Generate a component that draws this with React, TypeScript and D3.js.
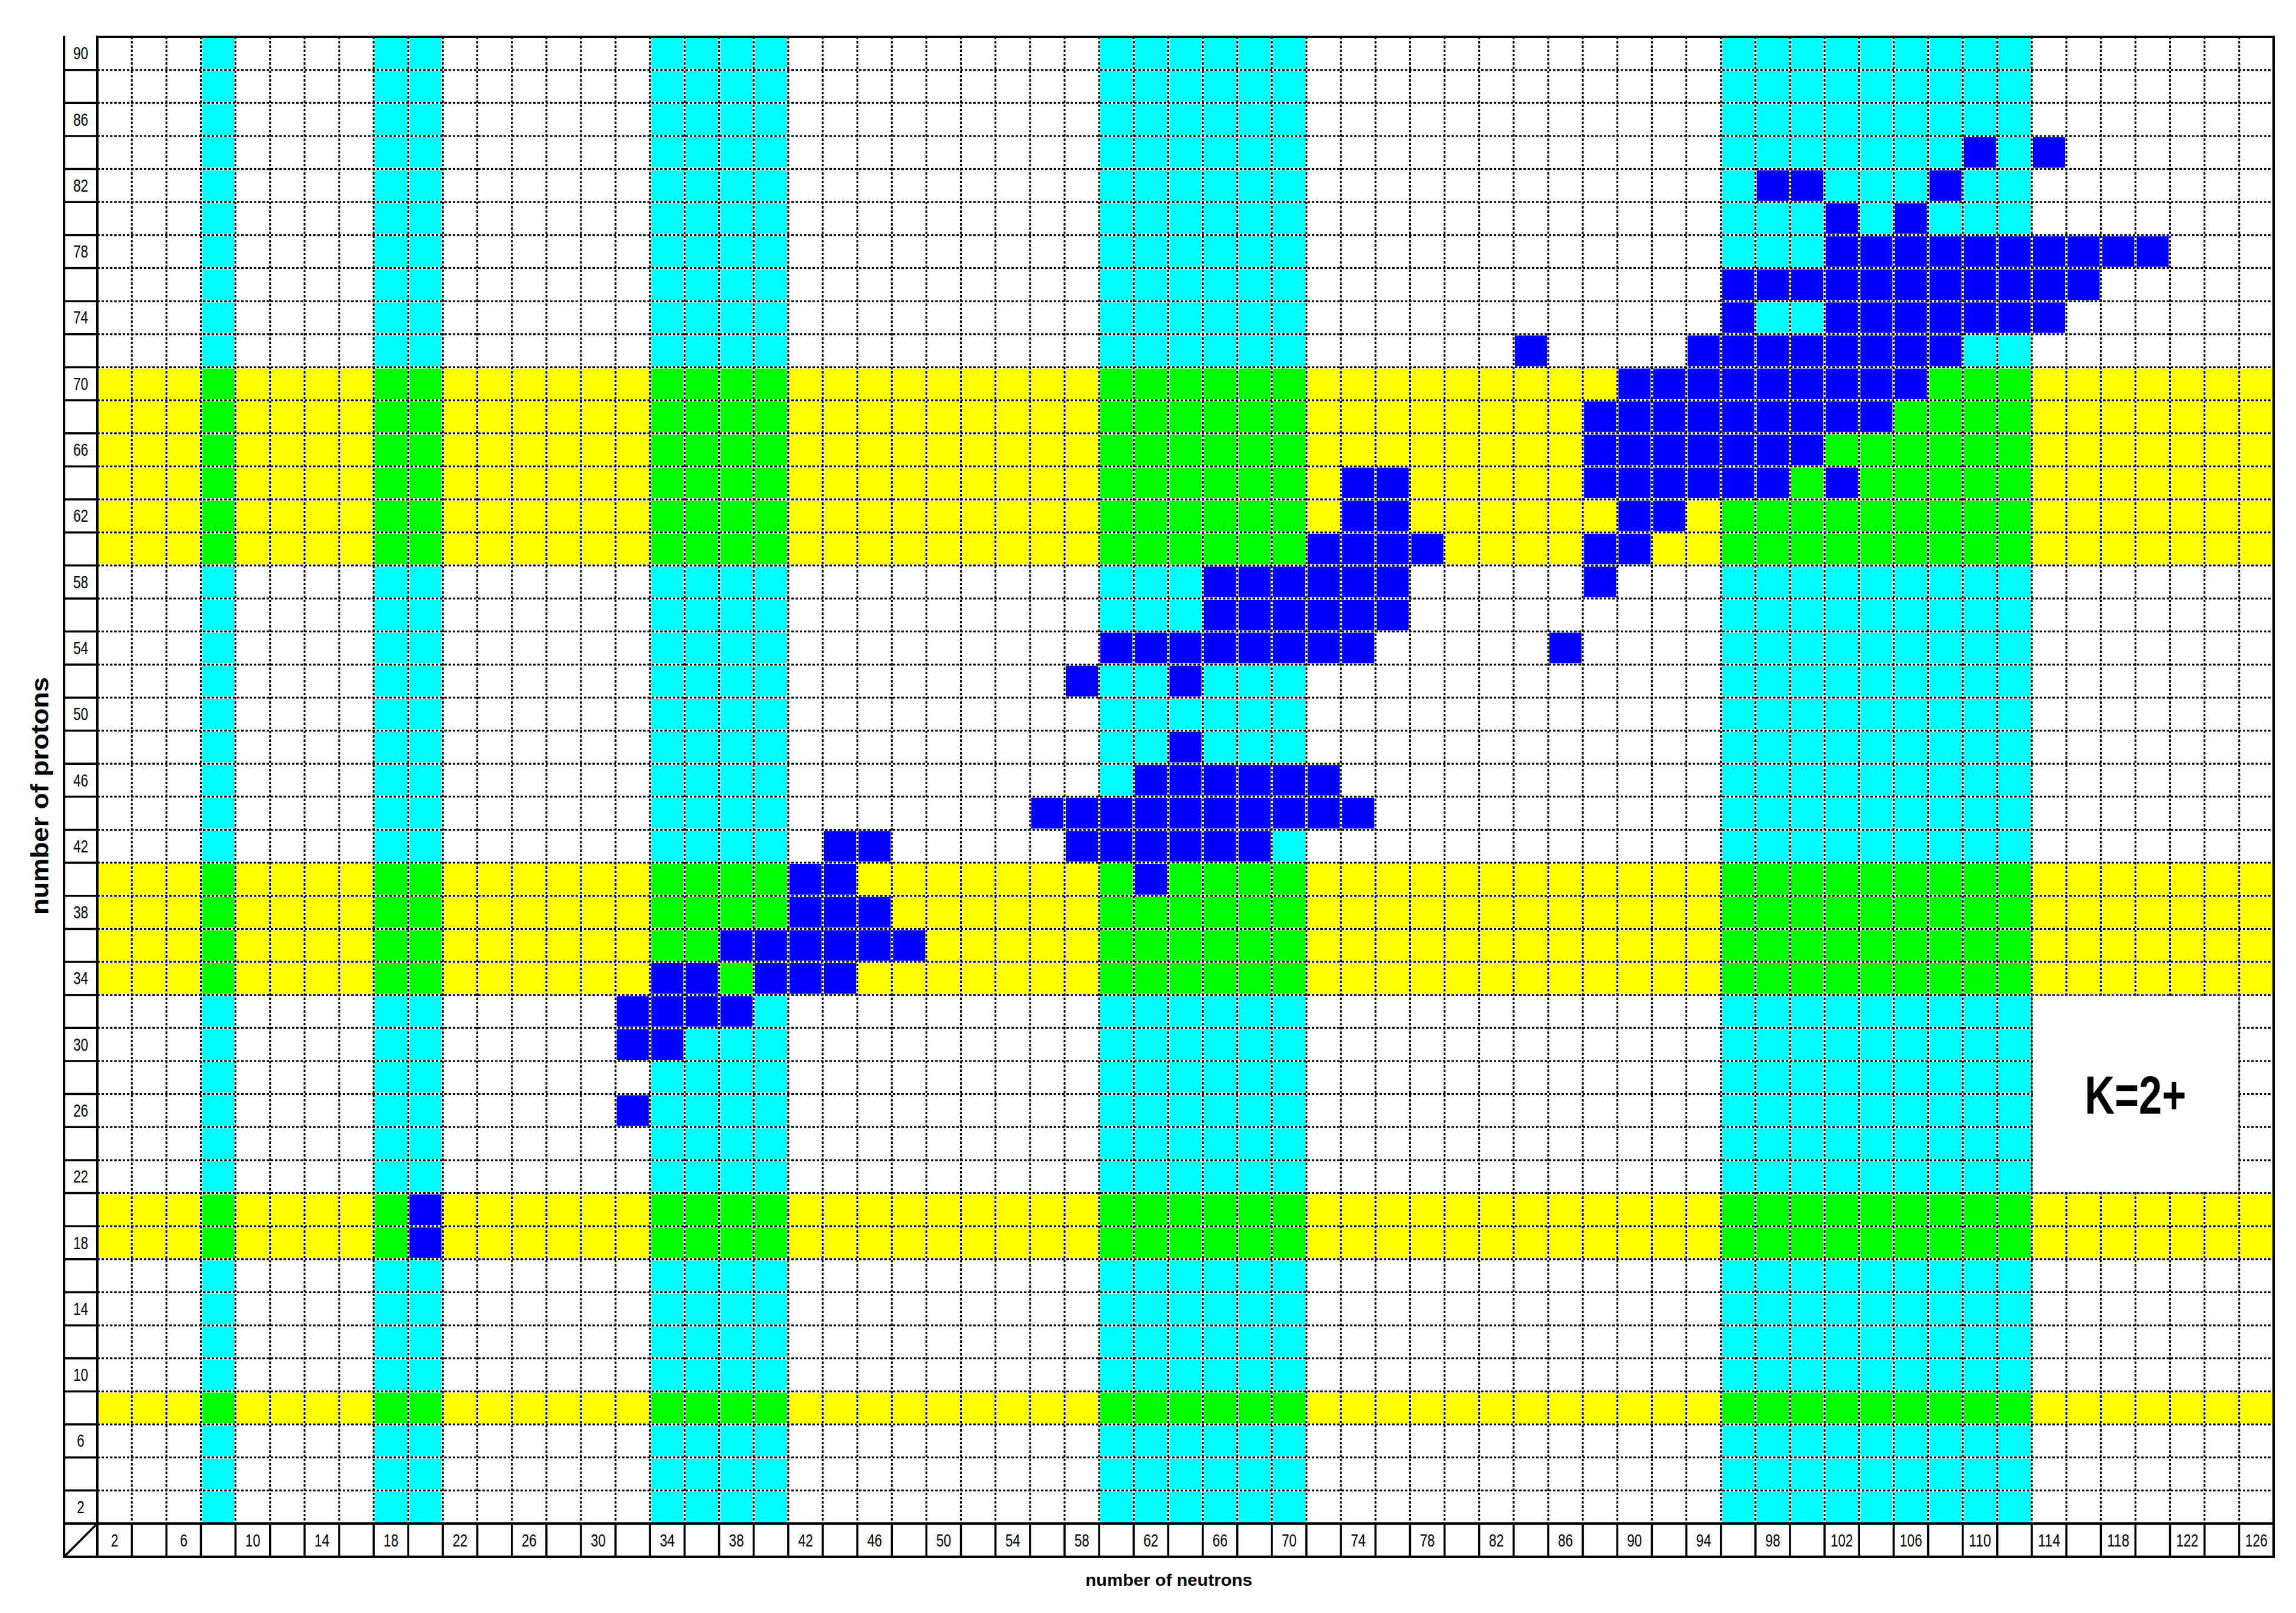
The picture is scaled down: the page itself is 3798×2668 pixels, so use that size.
import React from "react";
import * as d3 from "d3";

// ---------- data ----------
const neutronNumbers: number[] = d3.range(2, 127, 2);
const protonNumbers: number[] = d3.range(90, 1, -2);

const neutronTickLabels = [2, 6, 10, 14, 18, 22, 26, 30, 34, 38, 42, 46, 50, 54, 58, 62, 66, 70, 74, 78, 82, 86, 90, 94, 98, 102, 106, 110, 114, 118, 122, 126];
const protonTickLabels = [90, 86, 82, 78, 74, 70, 66, 62, 58, 54, 50, 46, 42, 38, 34, 30, 26, 22, 18, 14, 10, 6, 2];

// shaded neutron columns and proton rows
const shadedNeutrons = [8, 18, 20, 34, 36, 38, 40, 60, 62, 64, 66, 68, 70, 96, 98, 100, 102, 104, 106, 108, 110, 112];
const shadedProtons = [8, 18, 20, 34, 36, 38, 40, 60, 62, 64, 66, 68, 70];

// nuclei with K=2+ band: [Z, list of N]
const kTwoPlusNuclei: [number, number[]][] = [
  [84, [110, 114]],
  [82, [98, 100, 108]],
  [80, [102, 106]],
  [78, [102, 104, 106, 108, 110, 112, 114, 116, 118, 120]],
  [76, [96, 98, 100, 102, 104, 106, 108, 110, 112, 114, 116]],
  [74, [96, 102, 104, 106, 108, 110, 112, 114]],
  [72, [84, 94, 96, 98, 100, 102, 104, 106, 108]],
  [70, [90, 92, 94, 96, 98, 100, 102, 104, 106]],
  [68, [88, 90, 92, 94, 96, 98, 100, 102, 104]],
  [66, [88, 90, 92, 94, 96, 98, 100]],
  [64, [74, 76, 88, 90, 92, 94, 96, 98, 102]],
  [62, [74, 76, 90, 92]],
  [60, [72, 74, 76, 78, 88, 90]],
  [58, [66, 68, 70, 72, 74, 76, 88]],
  [56, [66, 68, 70, 72, 74, 76]],
  [54, [60, 62, 64, 66, 68, 70, 72, 74, 86]],
  [52, [58, 64]],
  [48, [64]],
  [46, [62, 64, 66, 68, 70, 72]],
  [44, [56, 58, 60, 62, 64, 66, 68, 70, 72, 74]],
  [42, [44, 46, 58, 60, 62, 64, 66, 68]],
  [40, [42, 44, 62]],
  [38, [42, 44, 46]],
  [36, [38, 40, 42, 44, 46, 48]],
  [34, [34, 36, 40, 42, 44]],
  [32, [32, 34, 36, 38]],
  [30, [32, 34]],
  [26, [32]],
  [20, [20]],
  [18, [20]],
];

// label box region
const boxNeutrons = [114, 124];
const boxProtons = [32, 22];
const boxLabel = "K=2+";

// ---------- layout ----------
const W = 3798;
const H = 2668;
const gridLeft = 161;
const gridRight = 3761;
const gridTop = 61;
const gridBottom = 2520;
const axisLeft = 106;
const labelBottom = 2575;

const CYAN = "#00FFFF";
const YELLOW = "#FFFF00";
const GREEN = "#00FF00";
const BLUE = "#0000FF";

export default function App() {
  const x = d3.scaleBand<number>().domain(neutronNumbers).range([gridLeft, gridRight]);
  const y = d3.scaleBand<number>().domain(protonNumbers).range([gridTop, gridBottom]);
  const cw = x.bandwidth();
  const rh = y.bandwidth();

  const nSet = new Set(shadedNeutrons);
  const zSet = new Set(shadedProtons);
  const blue = new Set<string>();
  kTwoPlusNuclei.forEach(([z, ns]) => ns.forEach((n) => blue.add(`${n}-${z}`)));

  const cells: { n: number; z: number; fill: string }[] = [];
  protonNumbers.forEach((z) => {
    neutronNumbers.forEach((n) => {
      let fill = "";
      if (blue.has(`${n}-${z}`)) fill = BLUE;
      else if (nSet.has(n) && zSet.has(z)) fill = GREEN;
      else if (nSet.has(n)) fill = CYAN;
      else if (zSet.has(z)) fill = YELLOW;
      if (fill) cells.push({ n, z, fill });
    });
  });

  const vLines = neutronNumbers.slice(1).map((n) => x(n)!);
  const hLines = protonNumbers.slice(1).map((z) => y(z)!);
  const rowBounds = protonNumbers.map((z) => y(z)!).concat([gridBottom]);
  const colBounds = neutronNumbers.map((n) => x(n)!).concat([gridRight]);

  const boxX0 = x(boxNeutrons[0])!;
  const boxX1 = x(boxNeutrons[1])! + cw;
  const boxY0 = y(boxProtons[0])!;
  const boxY1 = y(boxProtons[1])! + rh;

  const tickFs = 29;
  const narrow = (s: string) => s.length * 12.3;

  return (
    <svg
      width={W}
      height={H}
      viewBox={`0 0 ${W} ${H}`}
      style={{ position: "absolute", left: 0, top: 0, background: "#fff" }}
      fontFamily="'Liberation Sans Narrow', 'Liberation Sans', Arial, sans-serif"
    >
      <rect x={0} y={0} width={W} height={H} fill="#fff" />
      {/* cells */}
      <g>
        {cells.map((c) => (
          <rect key={`${c.n}-${c.z}`} x={x(c.n)!} y={y(c.z)!} width={cw} height={rh} fill={c.fill} />
        ))}
      </g>
      {/* dashed grid lines */}
      <g>
        {vLines.map((v, i) => (
          <line key={`vw${i}`} x1={v} x2={v} y1={gridTop} y2={gridBottom} stroke="#fff" strokeWidth={4} />
        ))}
        {hLines.map((h, i) => (
          <line key={`hw${i}`} x1={gridLeft} x2={gridRight} y1={h} y2={h} stroke="#fff" strokeWidth={4} />
        ))}
        {vLines.map((v, i) => (
          <line key={`v${i}`} x1={v} x2={v} y1={gridTop} y2={gridBottom} stroke="#000" strokeWidth={3} strokeDasharray="4 3" />
        ))}
        {hLines.map((h, i) => (
          <line key={`h${i}`} x1={gridLeft} x2={gridRight} y1={h} y2={h} stroke="#000" strokeWidth={3} strokeDasharray="4 3" />
        ))}
      </g>
      {/* label box */}
      <rect x={boxX0 + 2} y={boxY0 + 2} width={boxX1 - boxX0 - 4} height={boxY1 - boxY0 - 4} fill="#fff" />
      <rect x={boxX0} y={boxY0} width={boxX1 - boxX0} height={boxY1 - boxY0} fill="none" stroke="#555" strokeWidth={1.5} strokeDasharray="4 3" />
      <text
        x={(boxX0 + boxX1) / 2}
        y={(boxY0 + boxY1) / 2 + 32}
        textAnchor="middle"
        fontSize={89}
        fontWeight="bold"
        fontFamily="'Liberation Sans Narrow', 'Liberation Sans', Arial, sans-serif"
        textLength={168}
        lengthAdjust="spacingAndGlyphs"
      >
        {boxLabel}
      </text>

      {/* axis column and label row frames */}
      <g stroke="#000" fill="none">
        <line x1={axisLeft} x2={axisLeft} y1={gridTop - 2} y2={labelBottom} strokeWidth={4} />
        <line x1={gridLeft} x2={gridLeft} y1={gridTop - 2} y2={labelBottom} strokeWidth={4} />
        {rowBounds.slice(1).map((b, i) => (
          <line key={`ab${i}`} x1={axisLeft} x2={gridLeft} y1={b} y2={b} strokeWidth={3.5} />
        ))}
        {colBounds.slice(1, -1).map((b, i) => (
          <line key={`lb${i}`} x1={b} x2={b} y1={gridBottom} y2={labelBottom} strokeWidth={3.5} />
        ))}
        <line x1={axisLeft} y1={labelBottom} x2={gridLeft} y2={gridBottom} strokeWidth={3.5} />
        <line x1={gridLeft - 2} x2={gridRight + 2} y1={gridTop} y2={gridTop} strokeWidth={4} />
        <line x1={gridRight} x2={gridRight} y1={gridTop} y2={labelBottom} strokeWidth={4} />
        <line x1={axisLeft - 2} x2={gridRight + 2} y1={gridBottom} y2={gridBottom} strokeWidth={4} />
        <line x1={axisLeft - 2} x2={gridRight + 2} y1={labelBottom} y2={labelBottom} strokeWidth={4} />
      </g>

      {/* tick labels */}
      <g fontSize={tickFs} fill="#000">
        {protonTickLabels.map((z) => (
          <text
            key={`zl${z}`}
            x={(axisLeft + gridLeft) / 2}
            y={y(z)! + rh / 2 + 10}
            textAnchor="middle"
            textLength={narrow(String(z))}
            lengthAdjust="spacingAndGlyphs"
          >
            {z}
          </text>
        ))}
        {neutronTickLabels.map((n) => (
          <text
            key={`nl${n}`}
            x={x(n)! + cw / 2}
            y={(gridBottom + labelBottom) / 2 + 10}
            textAnchor="middle"
            textLength={narrow(String(n))}
            lengthAdjust="spacingAndGlyphs"
          >
            {n}
          </text>
        ))}
      </g>

      {/* axis titles */}
      <text
        x={(axisLeft + gridRight) / 2}
        y={2623}
        textAnchor="middle"
        fontSize={28}
        fontWeight="bold"
        fontFamily="'Liberation Sans', Arial, sans-serif"
        textLength={276}
        lengthAdjust="spacingAndGlyphs"
      >
        number of neutrons
      </text>
      <text
        transform={`translate(80, ${(gridTop + gridBottom) / 2 + 26}) rotate(-90)`}
        textAnchor="middle"
        fontSize={40}
        fontWeight="bold"
        fontFamily="'Liberation Sans', Arial, sans-serif"
        textLength={393}
        lengthAdjust="spacingAndGlyphs"
      >
        number of protons
      </text>
    </svg>
  );
}
